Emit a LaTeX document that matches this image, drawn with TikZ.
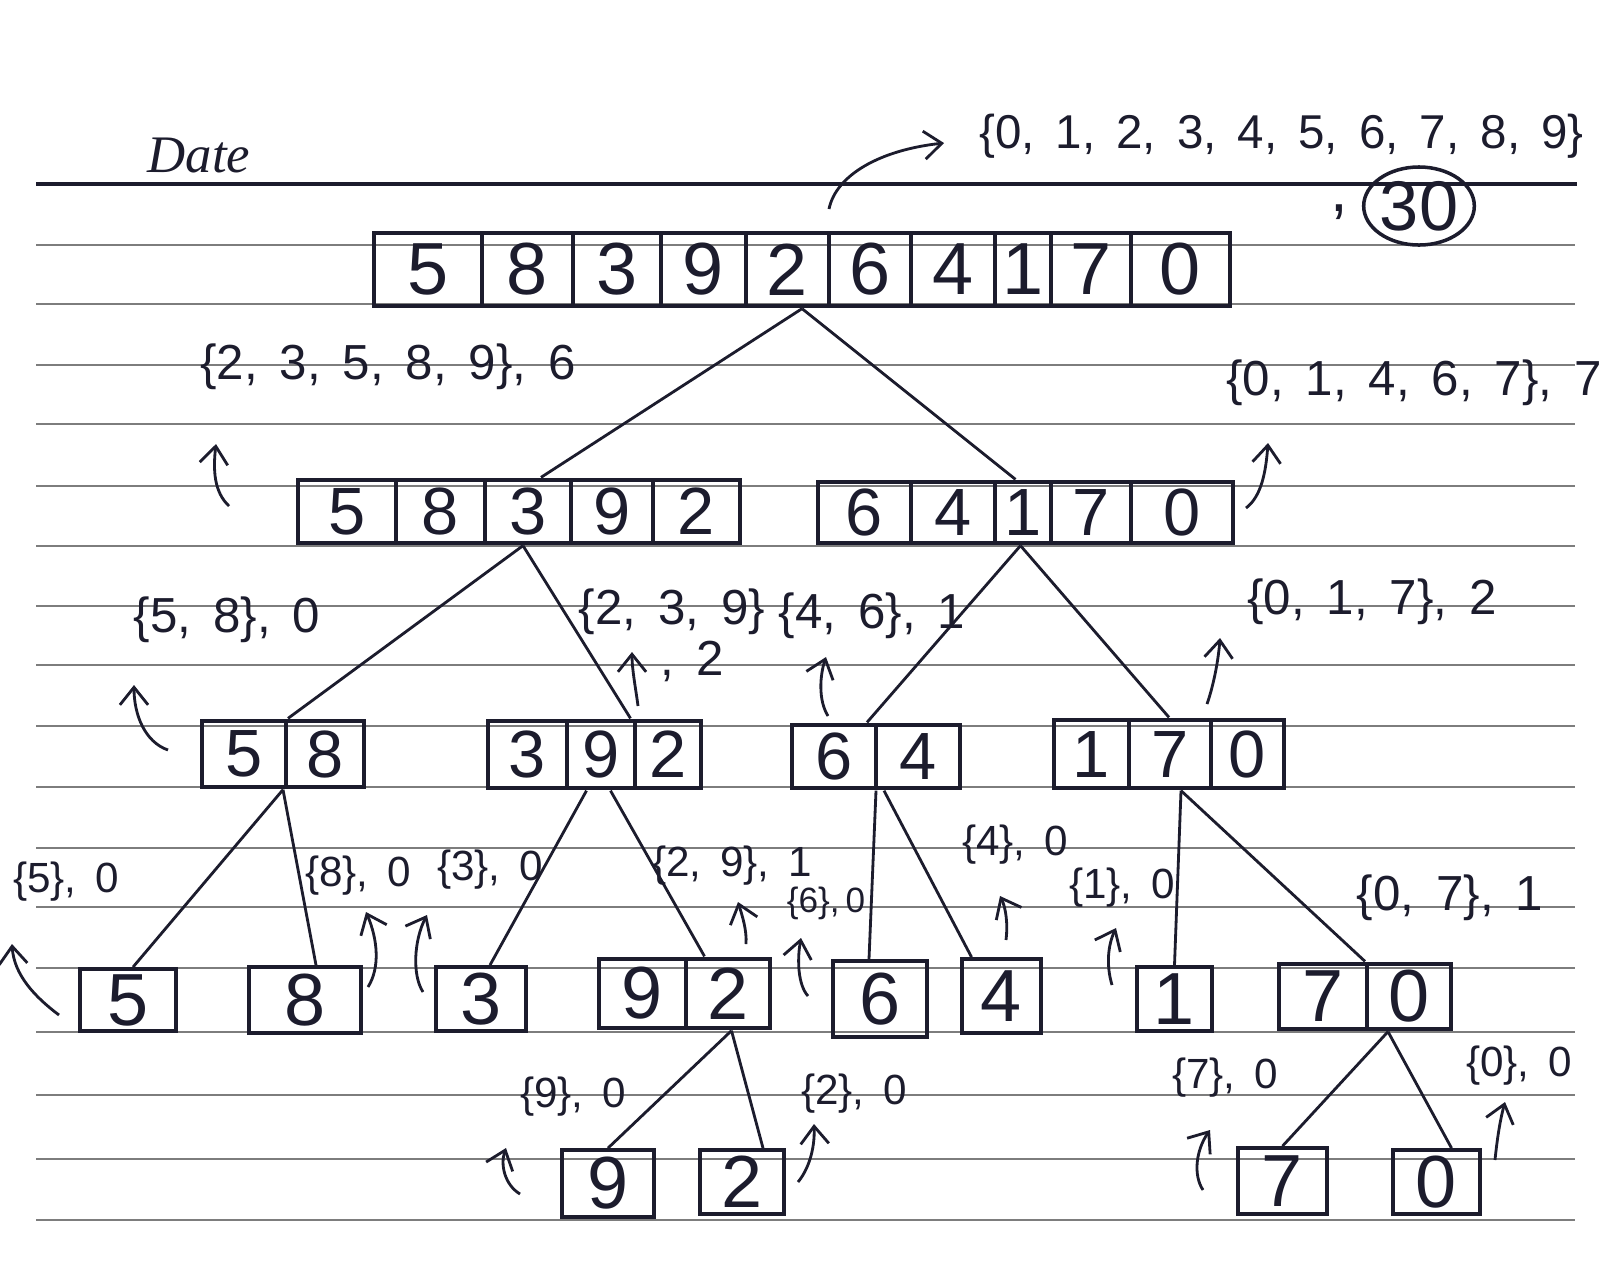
\documentclass[tikz,border=0pt]{standalone}
\usepackage{fontspec}
\setmainfont{Liberation Sans}
\newfontfamily\datefont{Liberation Serif}
\usetikzlibrary{fit,calc,arrows.meta,shapes.geometric}
\definecolor{ink}{RGB}{28,28,45}
\definecolor{rulecol}{RGB}{125,125,125}
\begin{document}
\begin{tikzpicture}[x=0.01cm,y=-0.01cm,
  cell/.style={draw=ink, line width=1.1pt, inner sep=0pt},
  grp/.style={inner sep=0pt},
  bigd/.style={text=ink, inner sep=0pt, font=\fontsize{21}{23}\selectfont},
  midd/.style={text=ink, inner sep=0pt, font=\fontsize{19}{21}\selectfont},
  lab/.style={text=ink, inner sep=1pt, font=\fontsize{14}{16}\selectfont},
  slab/.style={text=ink, inner sep=1pt, font=\fontsize{12}{14}\selectfont},
  edge/.style={draw=ink, line width=0.8pt},
  arr/.style={draw=ink, line width=0.8pt, -{Straight Barb[length=5pt,width=8pt]}},
  ruled/.style={draw=rulecol, line width=0.6pt}]
\useasboundingbox (0,0) rectangle (1600,1281);
\fill[white] (0,0) rectangle (1600,1281);
% ruled paper
\draw[ink, line width=1.2pt] (36,184) -- (1577,184);
\foreach \y in {245,304,365,424,486,546,606,665,726,787,848,907,968,1032,1095,1159,1220}
  \draw[ruled] (36,\y) -- (1575,\y);
\node[text=ink, font=\datefont\itshape\fontsize{15}{17}\selectfont] (date) at (199,155) {Date};

% root array
\node[cell,fit={(374,233)(482,306)},label={[bigd]center:5}] (r1) {};
\node[cell,fit={(482,233)(573,306)},label={[bigd]center:8}] (r2) {};
\node[cell,fit={(573,233)(661,306)},label={[bigd]center:3}] (r3) {};
\node[cell,fit={(661,233)(746,306)},label={[bigd]center:9}] (r4) {};
\node[cell,fit={(746,233)(829,306)},label={[bigd]center:2}] (r5) {};
\node[cell,fit={(829,233)(911,306)},label={[bigd]center:6}] (r6) {};
\node[cell,fit={(911,233)(995,306)},label={[bigd]center:4}] (r7) {};
\node[cell,fit={(995,233)(1051,306)},label={[bigd]center:1}] (r8) {};
\node[cell,fit={(1051,233)(1131,306)},label={[bigd]center:7}] (r9) {};
\node[cell,fit={(1131,233)(1230,306)},label={[bigd]center:0}] (r10) {};
\node[grp,fit=(r1)(r10)] (root) {};

% level 2
\node[cell,fit={(298,480)(396,543)},label={[midd]center:5}] (l1) {};
\node[cell,fit={(396,480)(485,543)},label={[midd]center:8}] (l2) {};
\node[cell,fit={(485,480)(571,543)},label={[midd]center:3}] (l3) {};
\node[cell,fit={(571,480)(653,543)},label={[midd]center:9}] (l4) {};
\node[cell,fit={(653,480)(740,543)},label={[midd]center:2}] (l5) {};
\node[grp,fit=(l1)(l5)] (L2L) {};
\node[cell,fit={(818,482)(911,543)},label={[midd]center:6}] (m1) {};
\node[cell,fit={(911,482)(995,543)},label={[midd]center:4}] (m2) {};
\node[cell,fit={(995,482)(1051,543)},label={[midd]center:1}] (m3) {};
\node[cell,fit={(1051,482)(1131,543)},label={[midd]center:7}] (m4) {};
\node[cell,fit={(1131,482)(1233,543)},label={[midd]center:0}] (m5) {};
\node[grp,fit=(m1)(m5)] (L2R) {};

% level 3
\node[cell,fit={(202,721)(286,787)},label={[midd]center:5}] (a1) {};
\node[cell,fit={(286,721)(364,787)},label={[midd]center:8}] (a2) {};
\node[grp,fit=(a1)(a2)] (A) {};
\node[cell,fit={(488,721)(567,788)},label={[midd]center:3}] (b1) {};
\node[cell,fit={(567,721)(635,788)},label={[midd]center:9}] (b2) {};
\node[cell,fit={(635,721)(701,788)},label={[midd]center:2}] (b3) {};
\node[grp,fit=(b1)(b3)] (B) {};
\node[cell,fit={(792,725)(876,788)},label={[midd]center:6}] (c1) {};
\node[cell,fit={(876,725)(960,788)},label={[midd]center:4}] (c2) {};
\node[grp,fit=(c1)(c2)] (C) {};
\node[cell,fit={(1054,720)(1129,788)},label={[midd]center:1}] (d1) {};
\node[cell,fit={(1129,720)(1211,788)},label={[midd]center:7}] (d2) {};
\node[cell,fit={(1211,720)(1284,788)},label={[midd]center:0}] (d3) {};
\node[grp,fit=(d1)(d3)] (D) {};

% level 4
\node[cell,fit={(80,969)(176,1031)},label={[bigd]center:5}] (e) {};
\node[cell,fit={(249,967)(361,1033)},label={[bigd]center:8}] (f) {};
\node[cell,fit={(436,967)(526,1031)},label={[bigd]center:3}] (g) {};
\node[cell,fit={(599,959)(686,1028)},label={[bigd]center:9}] (h1) {};
\node[cell,fit={(686,959)(770,1028)},label={[bigd]center:2}] (h2) {};
\node[grp,fit=(h1)(h2)] (H) {};
\node[cell,fit={(833,961)(927,1037)},label={[bigd]center:6}] (i) {};
\node[cell,fit={(962,959)(1041,1033)},label={[bigd]center:4}] (j) {};
\node[cell,fit={(1137,967)(1212,1031)},label={[bigd]center:1}] (k) {};
\node[cell,fit={(1279,964)(1367,1029)},label={[bigd]center:7}] (n1) {};
\node[cell,fit={(1367,964)(1451,1029)},label={[bigd]center:0}] (n2) {};
\node[grp,fit=(n1)(n2)] (N) {};

% level 5
\node[cell,fit={(562,1150)(654,1217)},label={[bigd]center:9}] (p) {};
\node[cell,fit={(700,1150)(784,1214)},label={[bigd]center:2}] (q) {};
\node[cell,fit={(1238,1148)(1327,1214)},label={[bigd]center:7}] (s) {};
\node[cell,fit={(1393,1150)(1480,1214)},label={[bigd]center:0}] (t) {};

% tree edges
\draw[edge] (root.south) -- ($(L2L.north)+(22,0)$);
\draw[edge] (root.south) -- ($(L2R.north)+(-10,0)$);
\draw[edge] ($(L2L.south)+(4,0)$) -- ($(A.north)+(5,0)$);
\draw[edge] ($(L2L.south)+(4,0)$) -- ($(B.north)+(36,0)$);
\draw[edge] ($(L2R.south)+(-5,0)$) -- ($(C.north)+(-9,0)$);
\draw[edge] ($(L2R.south)+(-5,0)$) -- (D.north);
\draw[edge] (A.south) -- ($(e.north)+(5,0)$);
\draw[edge] (A.south) -- ($(f.north)+(11,0)$);
\draw[edge] ($(B.south)+(-8,0)$) -- ($(g.north)+(9,0)$);
\draw[edge] ($(B.south)+(16,0)$) -- ($(H.north)+(20,0)$);
\draw[edge] (C.south) -- ($(i.north)+(-11,0)$);
\draw[edge] ($(C.south)+(8,0)$) -- ($(j.north)+(-30,0)$);
\draw[edge] ($(D.south)+(12,0)$) -- (k.north);
\draw[edge] ($(D.south)+(12,0)$) -- (N.north);
\draw[edge] ($(H.south)+(47,0)$) -- (p.north);
\draw[edge] ($(H.south)+(47,0)$) -- ($(q.north)+(21,0)$);
\draw[edge] ($(N.south)+(23,0)$) -- (s.north);
\draw[edge] ($(N.south)+(23,0)$) -- ($(t.north)+(15,0)$);

% labels
\node[text=ink, inner sep=1pt, anchor=west, font=\fontsize{13.5}{15}\selectfont] (ltop) at (975,136) {\{0,\, 1,\, 2,\, 3,\, 4,\, 5,\, 6,\, 7,\, 8,\, 9\}};
\node[text=ink, inner sep=0pt, font=\fontsize{18}{20}\selectfont] (lcomma) at (1339,212) {,};
\node[draw=ink, line width=1pt, ellipse, inner sep=0pt, minimum width=1.04cm, minimum height=0.78cm, text=ink, font=\fontsize{20}{22}\selectfont] (total) at (1419,206) {30};
\node[lab] (lL2L) at (388,367) {\{2,\, 3,\, 5,\, 8,\, 9\},\, 6};
\node[lab] (lL2R) at (1414,383) {\{0,\, 1,\, 4,\, 6,\, 7\},\, 7};
\node[lab] (lA) at (227,620) {\{5,\, 8\},\, 0};
\node[lab] (lB) at (672,612) {\{2,\, 3,\, 9\}};
\node[lab] (lB2) at (692,661) {,\, 2};
\node[lab] (lC) at (872,616) {\{4,\, 6\},\, 1};
\node[lab] (lD) at (1372,602) {\{0,\, 1,\, 7\},\, 2};
\node[slab] (le) at (66,882) {\{5\},\, 0};
\node[slab] (lf) at (358,876) {\{8\},\, 0};
\node[slab] (lg) at (490,870) {\{3\},\, 0};
\node[slab] (lh) at (732,866) {\{2,\, 9\},\, 1};
\node[text=ink, inner sep=1pt, font=\fontsize{10}{12}\selectfont] (li) at (826,903) {\{6\},\,0};
\node[slab] (lj) at (1015,845) {\{4\},\, 0};
\node[slab] (lk) at (1122,888) {\{1\},\, 0};
\node[lab] (ln) at (1450,898) {\{0,\, 7\},\, 1};
\node[slab] (lp) at (573,1097) {\{9\},\, 0};
\node[slab] (lq) at (854,1094) {\{2\},\, 0};
\node[slab] (ls) at (1225,1078) {\{7\},\, 0};
\node[slab] (lt) at (1519,1066) {\{0\},\, 0};

% arrow end points
\coordinate (x1a) at (829,209);  \coordinate (x1b) at (944,143);
\coordinate (x2a) at (229,506);  \coordinate (x2b) at (216,444);
\coordinate (x3a) at (1246,508); \coordinate (x3b) at (1268,443);
\coordinate (x4a) at (168,750);  \coordinate (x4b) at (134,685);
\coordinate (x5a) at (638,706);  \coordinate (x5b) at (632,652);
\coordinate (x6a) at (828,716);  \coordinate (x6b) at (826,657);
\coordinate (x7a) at (1207,704); \coordinate (x7b) at (1220,638);
\coordinate (x8a) at (59,1015);  \coordinate (x8b) at (12,944);
\coordinate (x9a) at (368,987);  \coordinate (x9b) at (366,912);
\coordinate (x10a) at (423,992); \coordinate (x10b) at (427,915);
\coordinate (x11a) at (746,944); \coordinate (x11b) at (738,902);
\coordinate (x12a) at (808,996); \coordinate (x12b) at (801,938);
\coordinate (x13a) at (1006,940); \coordinate (x13b) at (1000,896);
\coordinate (x14a) at (1112,985); \coordinate (x14b) at (1116,928);
\coordinate (x15a) at (520,1194); \coordinate (x15b) at (506,1148);
\coordinate (x16a) at (798,1182); \coordinate (x16b) at (814,1124);
\coordinate (x17a) at (1203,1190); \coordinate (x17b) at (1210,1130);
\coordinate (x18a) at (1495,1160); \coordinate (x18b) at (1505,1102);

\draw[arr] (x1a) .. controls (836,175) and (880,150) .. (x1b);
\draw[arr] (x2a) .. controls (214,492) and (213,470) .. (x2b);
\draw[arr] (x3a) .. controls (1262,496) and (1266,470) .. (x3b);
\draw[arr] (x4a) .. controls (145,742) and (134,715) .. (x4b);
\draw[arr] (x5a) .. controls (636,690) and (632,670) .. (x5b);
\draw[arr] (x6a) .. controls (818,700) and (820,675) .. (x6b);
\draw[arr] (x7a) .. controls (1212,690) and (1218,665) .. (x7b);
\draw[arr] (x8a) .. controls (35,997) and (14,975) .. (x8b);
\draw[arr] (x9a) .. controls (380,968) and (378,940) .. (x9b);
\draw[arr] (x10a) .. controls (412,975) and (414,940) .. (x10b);
\draw[arr] (x11a) .. controls (747,930) and (742,915) .. (x11b);
\draw[arr] (x12a) .. controls (798,985) and (797,960) .. (x12b);
\draw[arr] (x13a) .. controls (1008,925) and (1006,908) .. (x13b);
\draw[arr] (x14a) .. controls (1106,965) and (1108,945) .. (x14b);
\draw[arr] (x15a) .. controls (505,1185) and (500,1165) .. (x15b);
\draw[arr] (x16a) .. controls (808,1170) and (815,1150) .. (x16b);
\draw[arr] (x17a) .. controls (1193,1175) and (1196,1150) .. (x17b);
\draw[arr] (x18a) .. controls (1497,1140) and (1500,1120) .. (x18b);
\end{tikzpicture}
\end{document}
